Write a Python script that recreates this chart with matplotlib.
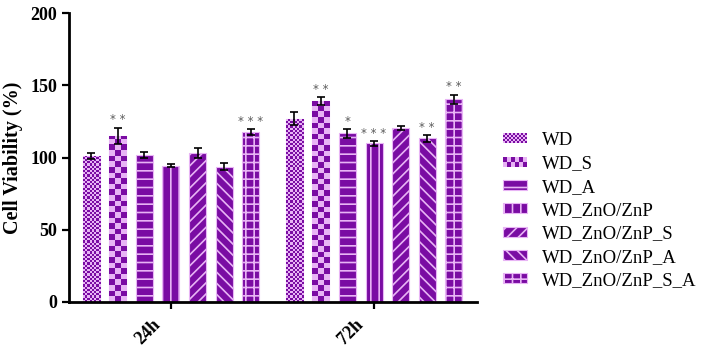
import numpy as np
import matplotlib
matplotlib.use("Agg")
import matplotlib.pyplot as plt
from matplotlib.patches import Rectangle
from matplotlib.colors import ListedColormap
from matplotlib.legend_handler import HandlerBase
from matplotlib.transforms import ScaledTranslation

plt.rcParams['font.family'] = ['Liberation Serif', 'DejaVu Serif']
plt.rcParams['hatch.linewidth'] = 1.2

groups = ['24h', '72h']
series = ['WD', 'WD_S', 'WD_A', 'WD_ZnO/ZnP', 'WD_ZnO/ZnP_S', 'WD_ZnO/ZnP_A', 'WD_ZnO/ZnP_S_A']
vals_24h = [101.0, 115.0, 101.5, 94.3, 103.3, 93.6, 117.6]
vals_72h = [126.9, 139.0, 116.7, 109.8, 120.4, 113.3, 140.3]
err_24h = [2.0, 5.6, 2.0, 1.0, 3.5, 2.5, 2.0]
err_72h = [4.6, 2.8, 3.0, 1.6, 1.2, 2.3, 3.2]
stars_24h = ['', '**', '', '', '', '', '***']
stars_72h = ['', '**', '*', '***', '', '**', '**']

PURPLE = '#7a0ca3'
LIGHT = '#e8b4f5'
patterns = ['checker_fine', 'checker_coarse', '--', '||', '///', '\\\\\\', '++']

fig = plt.figure(figsize=(7.01, 3.52), dpi=100)
ax = fig.add_axes([69/701, 1-302/352, (477-69)/701, (302-13)/352])
ax.set_xlim(-0.502, 1.507)
ax.set_ylim(0, 200)

pitch = 0.131
width = 0.084
n = len(series)
xc = np.arange(len(groups))

p0 = ax.transData.transform((0, 0))
p1 = ax.transData.transform((1, 1))
pxx = p1[0] - p0[0]
pxy = p1[1] - p0[1]
cmap = ListedColormap([LIGHT, PURPLE])

handles = []
for i, s in enumerate(series):
    xs = xc + (i - (n - 1) / 2) * pitch
    v = [vals_24h[i], vals_72h[i]]
    e = [err_24h[i], err_72h[i]]
    pat = patterns[i]
    if pat.startswith('checker'):
        bars = ax.bar(xs, v, width, color=LIGHT, edgecolor=LIGHT, linewidth=0.8, zorder=1, label=s)
        cell = 2.2 if pat == 'checker_fine' else 5.6
        for b in bars:
            x0 = b.get_x(); w = b.get_width(); h = b.get_height()
            nx = max(1, int(round(w * pxx / cell)))
            ny = max(1, int(np.ceil(h * pxy / cell)))
            arr = (np.add.outer(np.arange(ny), np.arange(nx)) % 2).astype(float)
            im = ax.imshow(arr, extent=(x0, x0 + w, 0, ny * cell / pxy), origin='lower',
                           cmap=cmap, vmin=0, vmax=1, interpolation='nearest', aspect='auto', zorder=1.5)
            im.set_clip_path(b)
    else:
        bars = ax.bar(xs, v, width, color=PURPLE, edgecolor=LIGHT, linewidth=0.8, hatch=pat,
                      zorder=1, label=s)
    handles.append(bars)
    ax.errorbar(xs, v, yerr=e, fmt='none', ecolor='black', elinewidth=1.2, capsize=3.2,
                capthick=1.2, zorder=3)
    for xx, vv, ee, st in zip(xs, v, e, [stars_24h[i], stars_72h[i]]):
        if st:
            ax.text(xx, vv + ee + 1.0, ' '.join(st), ha='center', va='bottom', fontsize=8.5,
                    color='#5a5a5a', family='DejaVu Sans', zorder=4)

ax.set_xlim(-0.502, 1.507)
ax.set_ylim(0, 200)

for sp in ['top', 'right']:
    ax.spines[sp].set_visible(False)
for sp in ['left', 'bottom']:
    ax.spines[sp].set_linewidth(2)
ax.set_yticks([0, 50, 100, 150, 200])
ax.set_xticks(xc)
ax.set_xticklabels(groups, rotation=45, ha='right', rotation_mode='anchor')
ax.tick_params(axis='both', width=1.6, length=5, labelsize=13)
shift = ScaledTranslation(-19/100, -2/100, fig.dpi_scale_trans)
for lab in ax.get_xticklabels():
    lab.set_transform(lab.get_transform() + shift)
for lab in ax.get_xticklabels() + ax.get_yticklabels():
    lab.set_fontweight('bold')
ax.set_ylabel('Cell Viability (%)', fontsize=14.5, fontweight='bold', labelpad=5)


class HandlerChecker(HandlerBase):
    def __init__(self, cell):
        super().__init__()
        self.cell = cell

    def create_artists(self, legend, orig_handle, xdescent, ydescent, width, height, fontsize, trans):
        arts = [Rectangle((-xdescent, -ydescent), width, height, facecolor=LIGHT,
                          edgecolor='none', transform=trans)]
        c = self.cell
        nx = int(round(width / c)); ny = int(round(height / c))
        cw = width / nx; ch = height / ny
        for a in range(nx):
            for b in range(ny):
                if (a + b) % 2:
                    arts.append(Rectangle((-xdescent + a * cw, -ydescent + b * ch), cw, ch,
                                          facecolor=PURPLE, edgecolor='none', transform=trans))
        return arts


leg = fig.legend(handles, series, loc='upper left', bbox_to_anchor=(486/701, 1-115/352),
                 frameon=False, fontsize=13.5, handlelength=1.28, handleheight=0.45,
                 labelspacing=0.34, handletextpad=0.8,
                 handler_map={handles[0]: HandlerChecker(1.5), handles[1]: HandlerChecker(3.0)})

fig.savefig('out.png', dpi=100)
